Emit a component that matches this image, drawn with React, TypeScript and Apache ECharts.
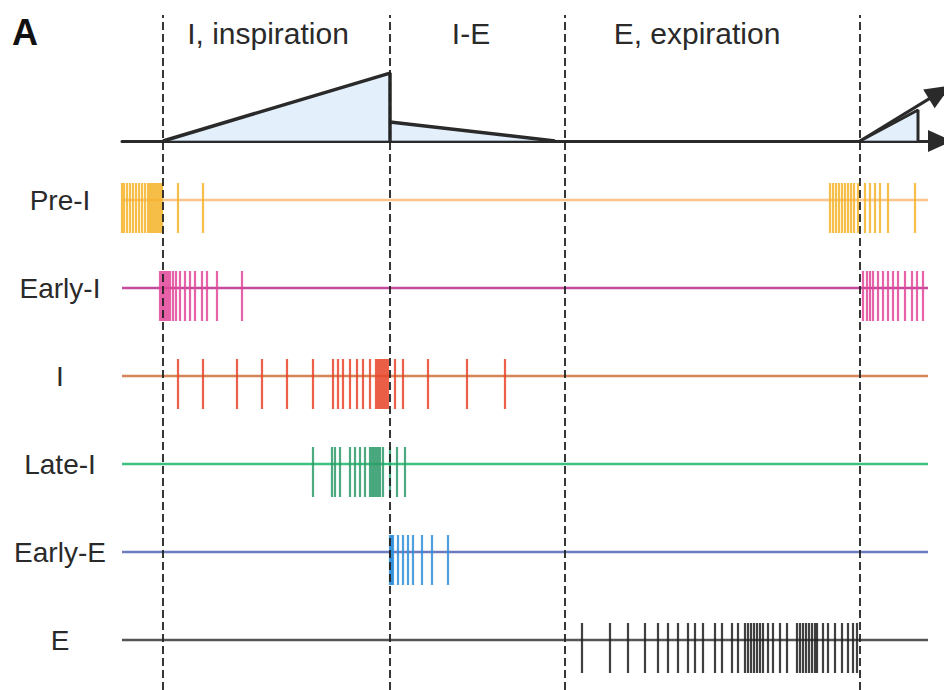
import React, { useEffect, useRef } from "react";
import * as echarts from "echarts";

// time axis in arbitrary units (0..806)
const rowNames = ["Pre-I", "Early-I", "I", "Late-I", "Early-E", "E"];
const phaseBounds = [41, 268, 443, 738];
const phaseLabels = ["I, inspiration", "I-E", "E, expiration"];

const preISpikes = [0, 2, 5, 8, 11, 14, 17, 20, 23, 26, 28, 30, 32, 34, 36, 38, 40, 56, 81,
  708, 711, 714, 717, 720, 723, 726, 729, 732, 736, 743, 748, 753, 758, 766, 793];
const earlyISpikes = [38, 40, 42, 44, 46, 48, 51, 54, 58, 63, 68, 73, 80, 85, 95, 120,
  741, 745, 748, 751, 756, 761, 766, 771, 776, 783, 790, 795, 801];
const iSpikes = [56, 81, 115, 140, 165, 191, 211, 216, 221, 228, 235, 241, 248, 254, 256, 258, 260, 262, 264, 266, 273, 281, 306, 345, 383];
const lateISpikes = [191, 210, 213, 218, 228, 233, 238, 243, 248, 250, 252, 254, 256, 258, 261, 268, 275, 283];
const earlyESpikes = [268, 269, 270, 271, 276, 281, 286, 291, 300, 310, 326];
const eSpikes = [460, 488, 506, 523, 536, 546, 556, 566, 573, 581, 593, 600, 610, 616, 623, 626, 629, 632, 635, 638, 641, 646, 651, 658, 665, 675, 678, 681, 684, 687, 690, 693, 695, 701, 706, 713, 720, 726, 731, 735];
const spikeSets = [preISpikes, earlyISpikes, iSpikes, lateISpikes, earlyESpikes, eSpikes];

// top drive signal (time, amplitude)
const signalA = [[41, 0], [268, 1], [268, 0], [268, 0.28], [433, 0]];
const signalB = [[738, 0], [796, 0.456], [796, 0]];
const arrowTip = [818, 0.72];

const lineColors = ["#FAC48E", "#C34A9C", "#D8845A", "#3CC17E", "#6C7CBF", "#555555"];
const spikeColors = ["#F5B42A", "#E2489A", "#E8452A", "#2E9A6A", "#2F8FD8", "#1E1E1E"];

const FONT = "'Liberation Sans', Arial, sans-serif";

export default function App() {
  const ref = useRef<HTMLDivElement>(null);
  useEffect(() => {
    if (!ref.current) return;
    const chart = echarts.init(ref.current, null, { renderer: "svg" });
    const rowSeries: any[] = [];
    rowNames.forEach((name, i) => {
      rowSeries.push({
        type: "line",
        xAxisIndex: 2,
        yAxisIndex: 2,
        data: [[0, name], [806, name]],
        symbol: "none",
        lineStyle: { color: lineColors[i], width: 2.5 },
        z: 2,
      });
      rowSeries.push({
        type: "scatter",
        xAxisIndex: 2,
        yAxisIndex: 2,
        data: spikeSets[i].map((t) => [t, name]),
        symbol: "rect",
        symbolSize: [2.2, 50],
        symbolOffset: [0, 8],
        itemStyle: { color: spikeColors[i], opacity: 0.85 },
        z: 3,
      });
    });
    const titleX = [268, 471, 697];
    chart.setOption({
      animation: false,
      grid: [
        { left: 122, top: 15, width: 806, height: 675 },
        { left: 122, top: 50, width: 818, height: 91 },
        { left: 122, top: 156, width: 806, height: 528 },
      ],
      xAxis: [
        { gridIndex: 0, type: "value", min: 0, max: 806, show: false },
        {
          gridIndex: 1, type: "value", min: 0, max: 818,
          splitLine: { show: false }, axisTick: { show: false }, axisLabel: { show: false },
          axisLine: { show: true, onZero: false, symbol: ["none", "triangle"], symbolSize: [22, 24],
            lineStyle: { color: "#2a2a2a", width: 3 } },
        },
        { gridIndex: 2, type: "value", min: 0, max: 806, show: false },
      ],
      yAxis: [
        { gridIndex: 0, type: "value", min: 0, max: 1, show: false },
        { gridIndex: 1, type: "value", min: 0, max: 1.34, show: false },
        {
          gridIndex: 2, type: "category", data: rowNames, inverse: true,
          axisLine: { show: false }, axisTick: { show: false }, splitLine: { show: false },
          axisLabel: { fontSize: 28, color: "#2a2a2a", fontFamily: FONT, align: "center", margin: 62 },
        },
      ],
      series: [
        {
          type: "line", xAxisIndex: 0, yAxisIndex: 0, data: [], symbol: "none",
          markLine: {
            silent: true, symbol: "none", label: { show: false },
            lineStyle: { color: "#222", type: [8, 4], width: 1.8 },
            data: phaseBounds.map((v) => ({ xAxis: v })),
          },
        },
        {
          type: "line", xAxisIndex: 1, yAxisIndex: 1, data: signalA, symbol: "none",
          lineStyle: { color: "#2a2a2a", width: 3.5 },
          areaStyle: { color: "#D7E8F8" }, z: 4,
        },
        {
          type: "line", xAxisIndex: 1, yAxisIndex: 1, data: signalB, symbol: "none",
          lineStyle: { color: "#2a2a2a", width: 3 },
          areaStyle: { color: "#D7E8F8" }, z: 4,
          markLine: {
            silent: true, symbol: ["none", "triangle"], symbolSize: [22, 26], label: { show: false },
            lineStyle: { color: "#2a2a2a", type: "solid", width: 3 },
            data: [[{ coord: signalB[0] }, { coord: arrowTip }]],
          },
        },
        ...rowSeries,
      ],
      graphic: [
        { type: "text", left: 12, top: 14, style: { text: "A", font: `bold 36px ${FONT}`, fill: "#111" } },
        ...phaseLabels.map((t, i) => ({
          type: "text", x: titleX[i], y: 33,
          style: { text: t, font: `30px ${FONT}`, fill: "#2a2a2a", align: "center", verticalAlign: "middle" },
        })),
      ],
    });
    return () => chart.dispose();
  }, []);
  return <div ref={ref} style={{ width: 944, height: 690, position: "absolute", left: 0, top: 0 }} />;
}
